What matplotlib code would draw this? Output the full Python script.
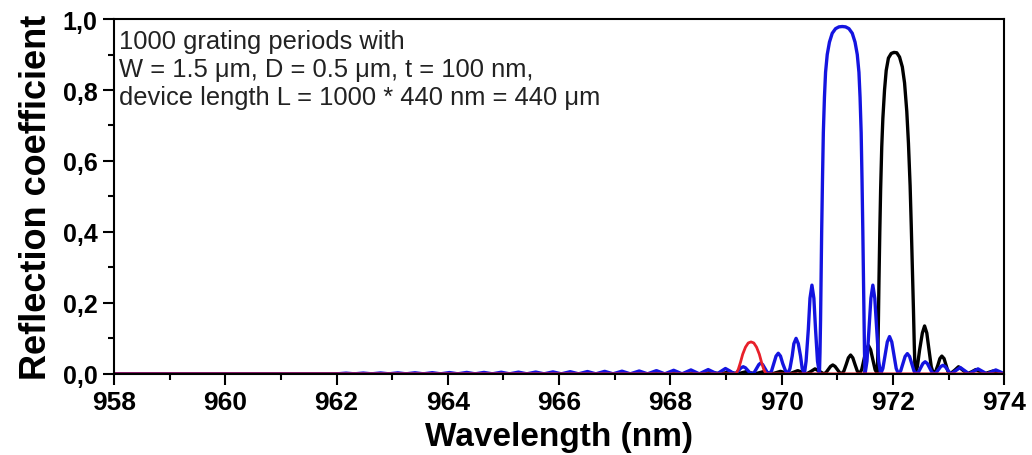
import matplotlib
matplotlib.use("Agg")
import matplotlib.pyplot as plt
from matplotlib.ticker import MultipleLocator

# reflection spectra of the three gratings (wavelength in nm, reflection coefficient)
blue_wl = [958.0, 962.01, 962.17, 962.32, 962.48, 962.63, 962.79, 962.94, 963.10, 963.25,
           963.41, 963.56, 963.72, 963.87, 964.03, 964.18, 964.34, 964.49, 964.65, 964.80,
           964.96, 965.11, 965.27, 965.42, 965.58, 965.73, 965.89, 966.04, 966.20, 966.35,
           966.51, 966.66, 966.82, 966.97, 967.13, 967.28, 967.44, 967.59, 967.75, 967.90,
           968.06, 968.21, 968.37, 968.52,
           968.60, 968.68, 968.76, 968.84,
           968.92, 968.99, 969.07, 969.15,
           969.19, 969.23, 969.27, 969.31, 969.35, 969.39, 969.43, 969.47,
           969.51, 969.55, 969.59, 969.62, 969.66, 969.70, 969.74, 969.78,
           969.82, 969.86, 969.90, 969.94, 969.98, 970.02, 970.07, 970.11,
           970.15, 970.19, 970.22, 970.26, 970.30, 970.34, 970.37, 970.41,
           970.44, 970.48, 970.51, 970.545, 970.58, 970.61, 970.645, 970.68,
           970.69, 970.70, 970.71, 970.72, 970.735, 970.75, 970.77, 970.79, 970.82,
           970.86, 970.91, 970.97, 971.03, 971.09, 971.15, 971.21, 971.27, 971.32,
           971.36, 971.39, 971.41, 971.43, 971.445, 971.46, 971.47, 971.48, 971.49, 971.50,
           971.535, 971.57, 971.605, 971.64, 971.675, 971.71, 971.745, 971.78,
           971.82, 971.86, 971.90, 971.94, 971.98, 972.02, 972.06, 972.10,
           972.14, 972.18, 972.22, 972.26, 972.30, 972.34, 972.38, 972.42,
           972.46, 972.50, 972.54, 972.58, 972.62, 972.66, 972.70, 972.74,
           972.78, 972.82, 972.86, 972.90, 972.94, 972.98, 973.02, 973.05,
           973.13, 973.21, 973.29, 973.37,
           973.45, 973.53, 973.61, 973.69,
           973.77, 973.85, 973.93, 974.0]
blue_r = [0, 0, 0.002, 0, 0.0022, 0, 0.0025, 0, 0.0028, 0,
          0.003, 0, 0.0033, 0, 0.0036, 0, 0.004, 0, 0.004, 0,
          0.0045, 0, 0.0048, 0, 0.005, 0, 0.0055, 0, 0.006, 0,
          0.0065, 0, 0.007, 0, 0.0075, 0, 0.008, 0, 0.009, 0,
          0.010, 0, 0.011, 0,
          0.006, 0.012, 0.006, 0,
          0.008, 0.015, 0.008, 0,
          0.003, 0.010, 0.017, 0.020, 0.017, 0.010, 0.003, 0,
          0.0045, 0.015, 0.026, 0.030, 0.026, 0.015, 0.0045, 0,
          0.0085, 0.029, 0.050, 0.058, 0.050, 0.029, 0.0085, 0,
          0.015, 0.050, 0.085, 0.100, 0.085, 0.050, 0.015, 0,
          0.036, 0.125, 0.213, 0.250, 0.213, 0.125, 0.036, 0,
          0.06, 0.15, 0.28, 0.40, 0.55, 0.68, 0.78, 0.85, 0.90,
          0.935, 0.96, 0.973, 0.978, 0.979, 0.978, 0.973, 0.96, 0.935,
          0.90, 0.85, 0.78, 0.68, 0.55, 0.40, 0.28, 0.15, 0.06, 0,
          0.036, 0.125, 0.213, 0.250, 0.213, 0.125, 0.036, 0,
          0.015, 0.052, 0.090, 0.105, 0.090, 0.052, 0.015, 0,
          0.008, 0.028, 0.049, 0.057, 0.049, 0.028, 0.008, 0,
          0.005, 0.017, 0.029, 0.034, 0.029, 0.017, 0.005, 0,
          0.0035, 0.012, 0.0205, 0.024, 0.0205, 0.012, 0.0035, 0,
          0.009, 0.018, 0.009, 0,
          0.007, 0.014, 0.007, 0,
          0.0055, 0.011, 0.0055, 0]

black_wl = [958.0, 968.59, 968.74, 968.90, 969.05, 969.21, 969.36, 969.52, 969.67, 969.83,
            969.98, 970.14, 970.29, 970.45,
            970.53, 970.60, 970.68, 970.76,
            970.80, 970.84, 970.88, 970.92, 970.96, 971.00, 971.04, 971.08,
            971.12, 971.16, 971.20, 971.24, 971.28, 971.32, 971.36, 971.40,
            971.44, 971.48, 971.52, 971.56, 971.60, 971.64, 971.68, 971.72,
            971.73, 971.74, 971.75, 971.765, 971.78, 971.80, 971.82, 971.85, 971.88,
            971.92, 971.97, 972.02, 972.07, 972.12, 972.17, 972.21, 972.25, 972.28,
            972.31, 972.33, 972.35, 972.37, 972.385, 972.40,
            972.44, 972.48, 972.53, 972.57, 972.61, 972.65, 972.69, 972.73,
            972.77, 972.81, 972.845, 972.88, 972.92, 972.955, 972.99, 973.03,
            973.11, 973.18, 973.26, 973.34,
            973.42, 973.49, 973.57, 973.65,
            973.72, 973.80, 973.88, 973.95, 974.0]
black_r = [0, 0, 0.004, 0, 0.005, 0, 0.006, 0, 0.006, 0,
           0.007, 0, 0.009, 0,
           0.007, 0.014, 0.007, 0,
           0.004, 0.0125, 0.021, 0.025, 0.021, 0.0125, 0.004, 0,
           0.008, 0.026, 0.045, 0.053, 0.045, 0.026, 0.008, 0,
           0.012, 0.040, 0.068, 0.080, 0.068, 0.040, 0.012, 0,
           0.06, 0.15, 0.26, 0.40, 0.52, 0.64, 0.72, 0.80, 0.855,
           0.89, 0.903, 0.906, 0.905, 0.893, 0.865, 0.82, 0.74, 0.65,
           0.53, 0.42, 0.30, 0.18, 0.08, 0,
           0.020, 0.067, 0.115, 0.135, 0.115, 0.067, 0.020, 0,
           0.007, 0.025, 0.043, 0.050, 0.043, 0.025, 0.007, 0,
           0.010, 0.020, 0.010, 0,
           0.006, 0.012, 0.006, 0,
           0.004, 0.008, 0.004, 0, 0]

red_wl = [958.0, 969.18, 969.22, 969.26, 969.30, 969.35, 969.40, 969.45,
          969.50, 969.55, 969.60, 969.64, 969.68, 969.72, 974.0]
red_r = [0, 0, 0.012, 0.032, 0.055, 0.075, 0.087, 0.090,
         0.087, 0.075, 0.055, 0.032, 0.012, 0, 0]

x_ticks = [958, 960, 962, 964, 966, 968, 970, 972, 974]
y_ticks = [0.0, 0.2, 0.4, 0.6, 0.8, 1.0]
y_tick_labels = ["0,0", "0,2", "0,4", "0,6", "0,8", "1,0"]

info = ("1000 grating periods with\n"
        "W = 1.5 \u03bcm, D = 0.5 \u03bcm, t = 100 nm,\n"
        "device length L = 1000 * 440 nm = 440 \u03bcm")

plt.rcParams['font.family'] = ['Liberation Sans', 'DejaVu Sans']

fig = plt.figure(figsize=(10.32, 4.56), dpi=100)
ax = fig.add_axes([0.1105, 0.178, 0.8625, 0.778])

ax.plot(black_wl, black_r, color="black", lw=2.4)
ax.plot(blue_wl, blue_r, color="#1414e0", lw=2.4)
ax.plot(red_wl, red_r, color="#e8202a", lw=2.0)

ax.set_xlim(958, 974)
ax.set_ylim(0, 1.0)
ax.set_xticks(x_ticks)
ax.set_yticks(y_ticks)
ax.set_yticklabels(y_tick_labels)
ax.xaxis.set_minor_locator(MultipleLocator(1))
ax.yaxis.set_minor_locator(MultipleLocator(0.1))

ax.tick_params(which="major", direction="out", length=8, width=1.5, labelsize=18, pad=4)
ax.tick_params(axis="x", which="major", labelsize=19)
ax.tick_params(which="minor", direction="out", length=4, width=1.5)
for lbl in ax.get_xticklabels() + ax.get_yticklabels():
    lbl.set_fontweight("bold")
for sp in ax.spines.values():
    sp.set_linewidth(1.5)

ax.set_xlabel("Wavelength (nm)", fontsize=24, fontweight="bold", labelpad=5)
ax.set_ylabel("Reflection coefficient", fontsize=26, fontweight="bold", labelpad=6)

ax.text(0.006, 0.972, info, transform=ax.transAxes, va="top", ha="left",
        fontsize=18.4, linespacing=1.2, color="#222222")

fig.savefig("out.png", dpi=100)
